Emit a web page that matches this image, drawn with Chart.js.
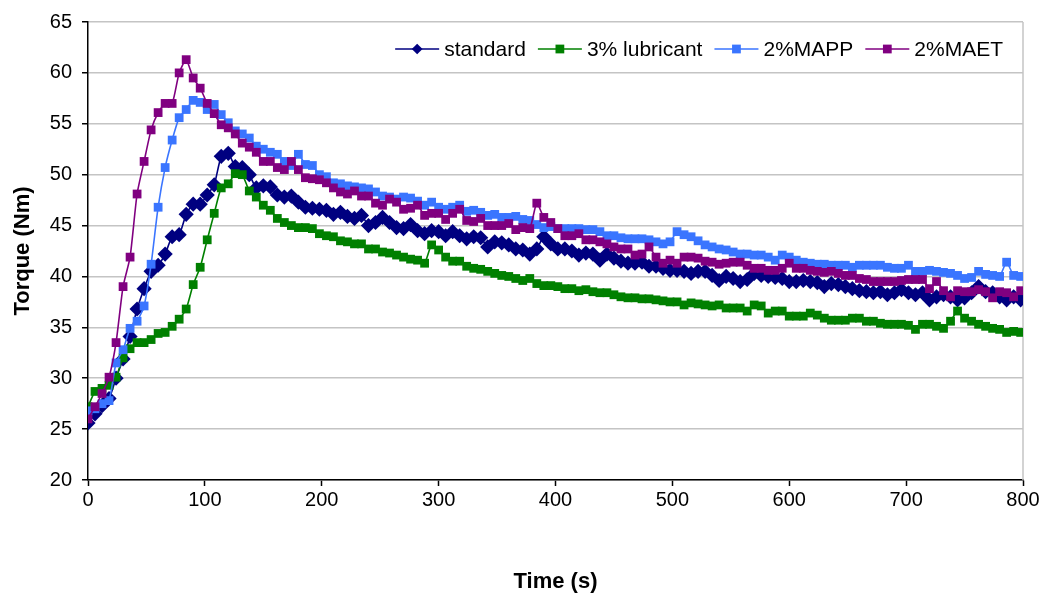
<!DOCTYPE html>
<html>
<head>
<meta charset="utf-8">
<script src="https://cdn.jsdelivr.net/npm/chart.js@4.4.1/dist/chart.umd.min.js"></script>
<style>
  html, body { margin: 0; padding: 0; background: #fff; }
  #wrap { width: 1044px; height: 596px; position: relative; }
</style>
</head>
<body>
<div id="wrap"><canvas id="torque"></canvas></div>
<script>
// czas pomiaru [s]
const times = [
  0, 6, 12, 18, 24, 30, 36, 42, 48, 54,
  60, 66, 72, 78, 84, 90, 96, 102, 108, 114,
  120, 126, 132, 138, 144, 150, 156, 162, 168, 174,
  180, 186, 192, 198, 204, 210, 216, 222, 228, 234,
  240, 246, 252, 258, 264, 270, 276, 282, 288, 294,
  300, 306, 312, 318, 324, 330, 336, 342, 348, 354,
  360, 366, 372, 378, 384, 390, 396, 402, 408, 414,
  420, 426, 432, 438, 444, 450, 456, 462, 468, 474,
  480, 486, 492, 498, 504, 510, 516, 522, 528, 534,
  540, 546, 552, 558, 564, 570, 576, 582, 588, 594,
  600, 606, 612, 618, 624, 630, 636, 642, 648, 654,
  660, 666, 672, 678, 684, 690, 696, 702, 708, 714,
  720, 726, 732, 738, 744, 750, 756, 762, 768, 774,
  780, 786, 792, 798,
];

const standard = [
  25.6, 26.5, 27.3, 28.0, 30.0, 31.9, 34.1, 36.8, 38.8, 40.5,
  41.1, 42.2, 43.9, 44.1, 46.1, 47.1, 47.1, 48.0, 49.0, 51.8,
  52.1, 50.8, 50.7, 50.0, 48.7, 48.9, 48.8, 48.0, 47.8, 47.9,
  47.3, 46.8, 46.7, 46.6, 46.5, 46.1, 46.3, 45.9, 45.7, 46.0,
  45.0, 45.3, 45.8, 45.3, 44.8, 44.7, 45.1, 44.5, 44.2, 44.5,
  44.4, 44.0, 44.4, 44.0, 43.7, 43.9, 43.8, 42.9, 43.4, 43.3,
  43.1, 42.7, 42.6, 42.2, 42.7, 43.9, 43.2, 42.7, 42.7, 42.5,
  42.1, 42.3, 42.2, 41.6, 42.2, 41.8, 41.5, 41.3, 41.3, 41.4,
  41.0, 41.0, 40.8, 40.6, 40.6, 40.5, 40.3, 40.5, 40.5, 40.1,
  39.6, 40.0, 39.8, 39.5, 39.7, 40.3, 40.1, 40.0, 39.9, 39.8,
  39.5, 39.5, 39.6, 39.5, 39.4, 39.0, 39.3, 39.2, 39.0, 38.8,
  38.6, 38.5, 38.4, 38.5, 38.2, 38.4, 38.7, 38.4, 38.2, 38.4,
  37.7, 38.0, 38.2, 38.0, 37.7, 37.9, 38.4, 39.0, 38.5, 38.4,
  38.0, 37.7, 38.0, 37.7,
];

const lubricant3 = [
  27.2, 28.7, 29.0, 29.3, 30.1, 32.0, 32.9, 33.5, 33.5, 33.8,
  34.4, 34.5, 35.1, 35.8, 36.8, 39.2, 40.9, 43.6, 46.2, 48.7,
  49.1, 50.1, 50.0, 48.4, 47.8, 47.0, 46.5, 45.7, 45.3, 45.0,
  44.8, 44.8, 44.7, 44.2, 44.0, 43.9, 43.5, 43.4, 43.2, 43.2,
  42.7, 42.7, 42.4, 42.3, 42.1, 41.9, 41.7, 41.6, 41.3, 43.1,
  42.6, 41.9, 41.5, 41.5, 41.0, 40.8, 40.7, 40.5, 40.3, 40.1,
  40.0, 39.8, 39.6, 39.8, 39.3, 39.1, 39.1, 39.0, 38.8, 38.8,
  38.6, 38.7, 38.5, 38.4, 38.4, 38.2, 38.0, 37.9, 37.9, 37.8,
  37.8, 37.7, 37.6, 37.5, 37.5, 37.2, 37.4, 37.3, 37.2, 37.1,
  37.2, 36.9, 36.9, 36.9, 36.6, 37.2, 37.1, 36.4, 36.6, 36.6,
  36.1, 36.1, 36.1, 36.4, 36.2, 35.9, 35.7, 35.7, 35.7, 35.9,
  35.9, 35.6, 35.6, 35.4, 35.3, 35.3, 35.3, 35.2, 34.8, 35.3,
  35.3, 35.1, 34.9, 35.6, 36.6, 35.9, 35.6, 35.3, 35.1, 34.9,
  34.8, 34.5, 34.6, 34.5,
];

const mapp2 = [
  26.8, 27.0, 27.5, 27.8, 31.5, 32.8, 34.9, 35.6, 37.1, 41.2,
  46.8, 50.7, 53.4, 55.6, 56.4, 57.3, 57.1, 56.4, 56.9, 55.9,
  55.1, 54.3, 54.0, 53.6, 52.8, 52.5, 52.2, 52.0, 51.3, 50.9,
  52.0, 51.0, 50.9, 50.0, 49.8, 49.2, 49.1, 48.9, 48.8, 48.7,
  48.6, 48.3, 47.9, 47.8, 47.6, 47.8, 47.7, 47.4, 47.0, 47.3,
  46.8, 46.6, 46.8, 47.0, 46.4, 46.5, 46.3, 46.0, 46.1, 45.8,
  45.8, 45.9, 45.6, 45.5, 45.1, 44.8, 44.9, 44.7, 44.7, 44.7,
  44.7, 44.6, 44.6, 44.4, 44.0, 44.0, 43.8, 43.7, 43.7, 43.7,
  43.6, 43.4, 43.2, 43.4, 44.4, 44.1, 43.9, 43.5, 43.1, 42.9,
  42.7, 42.6, 42.4, 42.2, 42.2, 42.1, 42.1, 41.9, 41.6, 42.1,
  41.9, 41.6, 41.4, 41.3, 41.2, 41.2, 41.1, 41.1, 41.1, 40.9,
  41.1, 41.1, 41.1, 41.1, 40.9, 40.8, 40.8, 41.1, 40.5, 40.5,
  40.6, 40.5, 40.4, 40.3, 40.1, 39.8, 39.9, 40.5, 40.2, 40.1,
  40.0, 41.4, 40.1, 40.0,
];

const maet2 = [
  26.0, 27.2, 28.5, 30.1, 33.5, 39.0, 41.9, 48.1, 51.3, 54.4,
  56.1, 57.0, 57.0, 60.0, 61.3, 59.5, 58.5, 57.0, 56.0, 54.9,
  54.6, 54.0, 53.1, 52.7, 52.2, 51.3, 51.3, 50.7, 50.5, 51.3,
  50.5, 49.7, 49.6, 49.5, 49.2, 48.7, 48.3, 48.1, 48.4, 47.9,
  47.9, 47.2, 47.0, 47.6, 47.3, 46.6, 46.7, 47.0, 46.0, 46.2,
  46.2, 45.6, 46.2, 46.6, 45.5, 45.4, 45.7, 45.0, 45.0, 45.0,
  45.2, 44.6, 44.8, 44.7, 47.2, 45.8, 45.3, 44.7, 44.0, 44.0,
  44.2, 43.6, 43.6, 43.4, 43.2, 42.9, 42.7, 42.7, 42.1, 42.2,
  42.9, 41.9, 41.3, 41.6, 41.3, 41.9, 41.9, 41.8, 41.5, 41.4,
  41.2, 41.3, 41.4, 41.4, 41.1, 40.8, 40.8, 40.6, 40.6, 40.8,
  41.3, 40.8, 40.8, 40.6, 40.5, 40.4, 40.5, 40.3, 40.1, 40.1,
  39.8, 39.7, 39.5, 39.5, 39.5, 39.5, 39.6, 39.7, 39.7, 39.7,
  38.8, 39.5, 38.6, 38.0, 38.6, 38.5, 38.5, 38.7, 38.5, 37.9,
  38.5, 38.4, 38.0, 38.6,
];

const FONT = '"Liberation Sans", Arial, sans-serif';

function markerPath(ctx, style, x, y, r) {
  ctx.beginPath();
  const s = r * Math.SQRT1_2;
  if (style === 'rectRot') {
    ctx.moveTo(x - s, y);
    ctx.lineTo(x, y - s);
    ctx.lineTo(x + s, y);
    ctx.lineTo(x, y + s);
    ctx.closePath();
  } else {
    ctx.rect(x - s, y - s, 2 * s, 2 * s);
  }
}

// legenda w obszarze wykresu, prawy górny róg (linia + znacznik)
const insideLegend = {
  id: 'insideLegend',
  beforeDatasetsDraw(chart) {
    const { ctx, chartArea } = chart;
    ctx.save();
    ctx.strokeStyle = '#c4c4c4';
    ctx.lineWidth = 1.5;
    ctx.beginPath();
    ctx.moveTo(chartArea.right, chartArea.top);
    ctx.lineTo(chartArea.right, chartArea.bottom);
    ctx.stroke();
    ctx.restore();
  },
  afterDraw(chart) {
    const { ctx, chartArea } = chart;
    const lineLen = 44, gap = 5, itemGap = 12;
    ctx.save();
    ctx.font = '21px ' + FONT;
    ctx.textBaseline = 'middle';
    const sets = chart.data.datasets.slice().sort((a, b) => b.order - a.order);
    const widths = sets.map((ds) => ctx.measureText(ds.label).width);
    const total = widths.reduce((s, w) => s + lineLen + gap + w, 0) + itemGap * (sets.length - 1);
    let x = chartArea.right - 20 - total;
    const y = chartArea.top + 27;
    sets.forEach((ds, i) => {
      ctx.strokeStyle = ds.borderColor;
      ctx.lineWidth = ds.borderWidth;
      ctx.beginPath();
      ctx.moveTo(x, y);
      ctx.lineTo(x + lineLen, y);
      ctx.stroke();
      ctx.fillStyle = ds.pointBackgroundColor;
      markerPath(ctx, ds.pointStyle, x + lineLen / 2, y, ds.pointRadius);
      ctx.fill();
      ctx.fillStyle = '#000';
      ctx.fillText(ds.label, x + lineLen + gap, y + 1);
      x += lineLen + gap + widths[i] + itemGap;
    });
    ctx.restore();
  },
};

function series(label, data, color, style, radius, order) {
  return {
    label,
    data,
    order,
    borderColor: color,
    backgroundColor: color,
    pointBackgroundColor: color,
    pointBorderColor: color,
    pointBorderWidth: 0,
    pointStyle: style,
    pointRadius: radius,
    pointHoverRadius: radius,
    borderWidth: 1.6,
    tension: 0.2,
    fill: false,
  };
}

new Chart(document.getElementById('torque'), {
  type: 'line',
  data: {
    labels: times,
    datasets: [
      series('standard', standard, '#000080', 'rectRot', 7.6, 4),
      series('3% lubricant', lubricant3, '#008000', 'rect', 6.2, 3),
      series('2%MAPP', mapp2, '#3a75ff', 'rect', 6.2, 2),
      series('2%MAET', maet2, '#800080', 'rect', 6.2, 1),
    ],
  },
  options: {
    responsive: true,
    maintainAspectRatio: false,
    animation: false,
    devicePixelRatio: 1,
    layout: { padding: { left: 0, right: 21, top: 18, bottom: 0 } },
    plugins: {
      legend: { display: false },
      tooltip: { enabled: false },
    },
    scales: {
      x: {
        type: 'linear',
        min: 0,
        max: 800,
        afterFit: (s) => { s.height = 116; },
        border: { color: '#000', width: 1.5 },
        grid: { drawOnChartArea: false, tickLength: 6, tickColor: '#000', tickWidth: 1.5 },
        ticks: { stepSize: 100, color: '#000', padding: 2, font: { family: FONT, size: 20 }, maxRotation: 0 },
        title: {
          display: true,
          text: 'Time (s)',
          color: '#000',
          font: { family: FONT, size: 22, weight: 'bold' },
          padding: { top: 0, bottom: 1 },
        },
      },
      y: {
        min: 20,
        max: 65,
        afterFit: (s) => { s.width = 88; },
        border: { color: '#000', width: 1.5 },
        grid: { color: '#c4c4c4', lineWidth: 1.5, tickLength: 6, tickColor: '#000', tickWidth: 1.5 },
        ticks: { stepSize: 5, color: '#000', padding: 10, font: { family: FONT, size: 20 } },
        title: {
          display: true,
          text: 'Torque (Nm)',
          color: '#000',
          font: { family: FONT, size: 22, weight: 'bold' },
          padding: { top: 10, bottom: 0 },
        },
      },
    },
  },
  plugins: [insideLegend],
});
</script>
</body>
</html>
